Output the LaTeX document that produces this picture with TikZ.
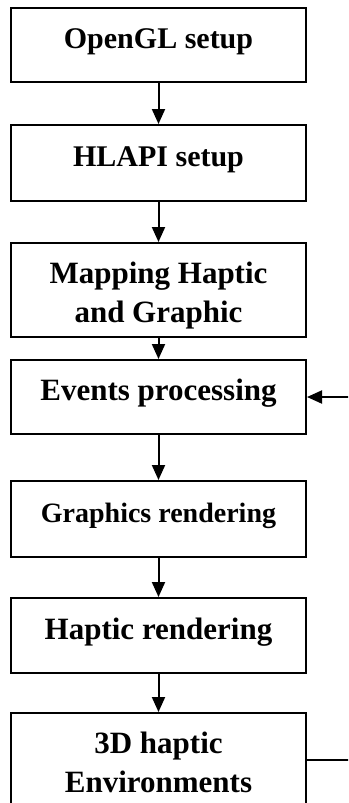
\documentclass[tikz,border=0pt]{standalone}
\usepackage{fontspec}
\setmainfont{Liberation Serif}
\usetikzlibrary{arrows.meta}
\begin{document}
\begin{tikzpicture}[x=1pt,y=-1pt,
  stage/.style={draw, line width=2pt, minimum width=295pt, inner sep=0pt,
    font=\bfseries\fontsize{31}{39}\selectfont,
    text height=21.7pt, text depth=14.7pt},
  twoline/.style={align=center, text height=71pt, text depth=7pt},
  flow/.style={line width=2pt, -{Triangle[length=15pt,width=13pt]}},
  back/.style={line width=2pt, -{Triangle[length=15pt,width=13pt]}},
]
\useasboundingbox (0,0) rectangle (348,803);
\clip (0,0) rectangle (348,803);

% processing stages, top to bottom
\node[stage, minimum height=74pt, font=\bfseries\fontsize{30}{38}\selectfont] (opengl) at (158.5,45) {OpenGL setup};
\node[stage, minimum height=76pt, font=\bfseries\fontsize{30}{38}\selectfont] (hlapi) at (158.5,163) {HLAPI setup};
\node[stage, twoline, minimum height=94pt] (mapping) at (158.5,290) {Mapping Haptic\\and Graphic};
\node[stage, minimum height=74pt] (events) at (158.5,397) {Events processing};
\node[stage, minimum height=76pt, font=\bfseries\fontsize{28}{35}\selectfont] (graphics) at (158.5,519) {Graphics rendering};
\node[stage, minimum height=75pt] (haptic) at (158.5,635.5) {Haptic rendering};
\node[stage, twoline, minimum height=94pt] (env) at (158.5,760) {3D haptic\\Environments};

% main flow
\draw[flow] (opengl) -- (hlapi);
\draw[flow] (hlapi) -- (mapping);
\draw[flow] (mapping) -- (events);
\draw[flow] (events) -- (graphics);
\draw[flow] (graphics) -- (haptic);
\draw[flow] (haptic) -- (env);

% loop back from the environment to event processing
\draw[back] (env.east) -- ++(60,0) |- (events.east);
\end{tikzpicture}
\end{document}
